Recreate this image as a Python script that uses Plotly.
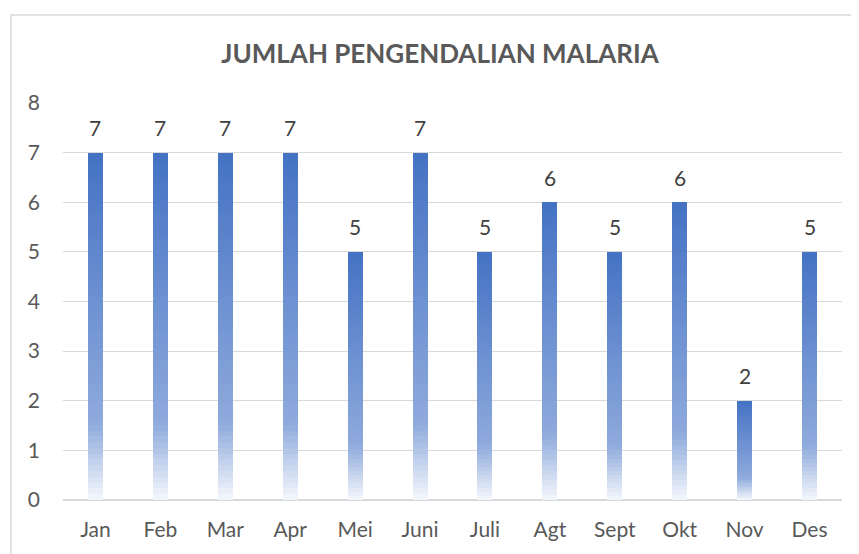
import plotly.graph_objects as go

months = ["Jan", "Feb", "Mar", "Apr", "Mei", "Juni", "Juli", "Agt", "Sept", "Okt", "Nov", "Des"]
values = [7, 7, 7, 7, 5, 7, 5, 6, 5, 6, 2, 5]
title_text = "JUMLAH PENGENDALIAN MALARIA"
y_ticks = [0, 1, 2, 3, 4, 5, 6, 7, 8]

FONT = "Lato, 'Open Sans', sans-serif"
TXT = "#595959"

# gradient stops: (fraction from bottom, rgb)
stops = [(0.0, (244, 247, 252)), (0.22, (143, 170, 220)), (1.0, (68, 114, 196))]


def grad(f):
    for (f0, c0), (f1, c1) in zip(stops[:-1], stops[1:]):
        if f0 <= f <= f1:
            t = (f - f0) / (f1 - f0)
            return "rgb(%d,%d,%d)" % tuple(round(a + (b - a) * t) for a, b in zip(c0, c1))
    return "rgb(%d,%d,%d)" % stops[-1][1]


N = 60
fig = go.Figure()
for j in range(N):
    frac = (N - j) / N
    fig.add_trace(go.Bar(
        x=months,
        y=[v * frac for v in values],
        marker=dict(color=grad(frac - 0.5 / N), line=dict(width=0)),
        width=0.23,
        hoverinfo="skip",
        showlegend=False,
    ))

for m, v in zip(months, values):
    fig.add_annotation(x=m, y=v, text=str(v), showarrow=False, yshift=25,
                       font=dict(family=FONT, size=21, color="#404040"))

# page has an 8px body margin; plot area on page: x 63-842, y 103-500
L, T = 55, 95
PW, PH = 779, 397
fig.update_layout(
    barmode="overlay", bargap=0, bargroupgap=0,
    width=859, height=554,
    margin=dict(l=L, r=859 - L - PW, t=T, b=554 - T - PH),
    paper_bgcolor="white", plot_bgcolor="white",
    title=dict(text="<b>" + title_text + "</b>", x=432 / 859, xanchor="center",
               y=1 - 46 / 554, yanchor="middle",
               font=dict(family=FONT, size=26, color=TXT)),
    xaxis=dict(showgrid=False, showline=False, ticks="", tickfont=dict(family=FONT, size=21, color=TXT),
               ticklabelstandoff=15),
    yaxis=dict(range=[0, 8], tickvals=y_ticks, showgrid=True, gridcolor="#d9d9d9", gridwidth=1,
               zeroline=True, zerolinecolor="#d9d9d9", zerolinewidth=1.5, showline=False, ticks="",
               tickfont=dict(family=FONT, size=21, color=TXT), ticklabelstandoff=22),
    shapes=[dict(type="rect", xref="paper", yref="paper",
                 x0=(3 - L) / PW, x1=(900 - L) / PW,
                 y0=(T + PH - 600) / PH, y1=(T + PH - 7) / PH,
                 line=dict(color="#d9d9d9", width=1.5), fillcolor="rgba(0,0,0,0)", layer="below")],
)

fig.write_html("out.html")
